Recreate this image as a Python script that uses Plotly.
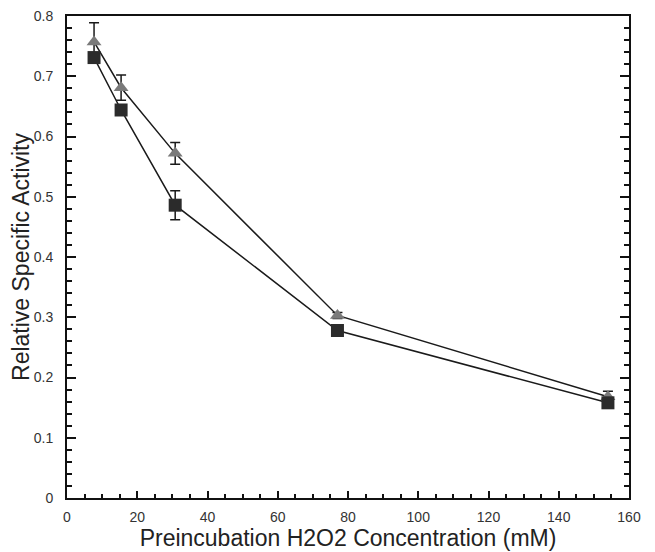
import plotly.graph_objects as go

conc = [7.7, 15.4, 30.8, 77, 154]
tri_vals = [0.757, 0.681, 0.572, 0.303, 0.168]
tri_err = [0.032, 0.021, 0.018, 0.005, 0.009]
sq_vals = [0.731, 0.644, 0.486, 0.278, 0.158]
sq_err = [0.008, 0.008, 0.024, 0.005, 0.006]

fig = go.Figure()
fig.add_trace(go.Scatter(
    x=conc, y=tri_vals, mode="lines+markers",
    line=dict(color="#1a1a1a", width=1.5),
    marker=dict(symbol="triangle-up", size=13, color="#7a7a7a"),
    error_y=dict(type="data", array=tri_err, color="#1a1a1a", thickness=1.5, width=5),
    showlegend=False,
))
fig.add_trace(go.Scatter(
    x=conc, y=sq_vals, mode="lines+markers",
    line=dict(color="#1a1a1a", width=1.5),
    marker=dict(symbol="square", size=13, color="#2b2b2b"),
    error_y=dict(type="data", array=sq_err, color="#1a1a1a", thickness=1.5, width=5),
    showlegend=False,
))

axis_font = dict(family="Liberation Sans, Arial, sans-serif", size=14, color="#333333")
fig.update_layout(
    width=647, height=544,
    margin=dict(l=59, r=26, t=8, b=54),
    paper_bgcolor="white", plot_bgcolor="white",
    font=dict(family="Liberation Sans, Arial, sans-serif", color="#222222"),
    xaxis=dict(
        range=[0, 160], dtick=20, tick0=0, automargin=False,
        ticks="inside", ticklen=7, tickwidth=2, tickcolor="#111111",
        minor=dict(ticks="inside", dtick=5, ticklen=4, tickwidth=2, tickcolor="#111111"),
        showline=True, linecolor="#111111", linewidth=2, mirror=True,
        showgrid=False, zeroline=False,
        tickfont=axis_font, ticklabelstandoff=5, ticklabeloverflow="allow",
        title=dict(text="Preincubation H2O2 Concentration (mM)",
                   font=dict(size=23, color="#222222"), standoff=0),
    ),
    yaxis=dict(
        range=[0, 0.8], dtick=0.1, tick0=0, automargin=False,
        ticks="inside", ticklen=9, tickwidth=2, tickcolor="#111111",
        minor=dict(ticks="inside", dtick=0.02, ticklen=5, tickwidth=2, tickcolor="#111111"),
        showline=True, linecolor="#111111", linewidth=2, mirror="ticks",
        showgrid=False, zeroline=False,
        tickfont=axis_font, ticklabelstandoff=9, ticklabeloverflow="allow",
        title=dict(text="Relative Specific Activity",
                   font=dict(size=23, color="#222222"), standoff=2),
    ),
)
fig.write_html("out.html")
